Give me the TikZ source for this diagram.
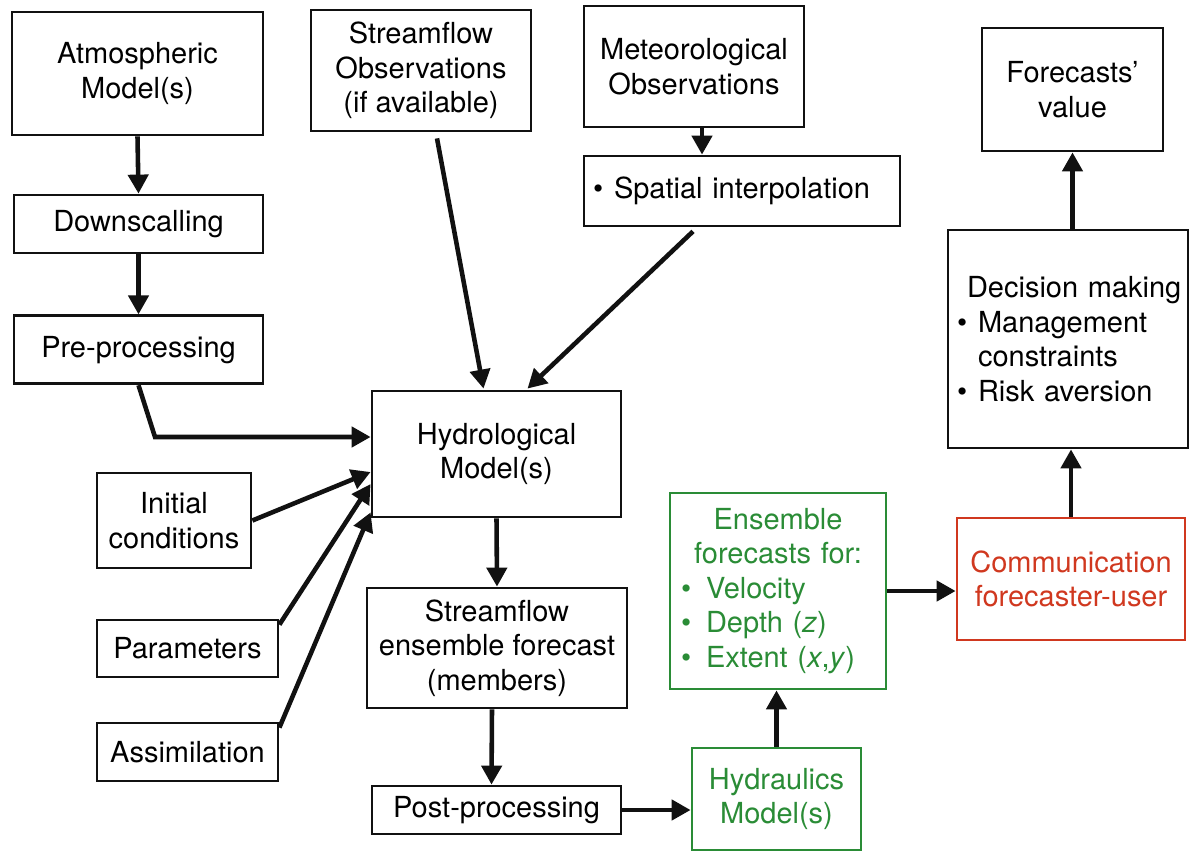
\documentclass[tikz,border=0pt]{standalone}
\usepackage{fontspec}
\setmainfont{TeX Gyre Heros}
\usetikzlibrary{arrows.meta,calc,positioning}
\definecolor{FcInk}{HTML}{111111}
\definecolor{FcGreen}{HTML}{2A8C36}
\definecolor{FcRed}{HTML}{D0381F}
\newcommand{\fcitem}[2][0.42cm]{\makebox[\linewidth][l]{\makebox[#1][l]{\textbullet}#2}}
\tikzset{
  fc/box/.style={
    draw=FcInk, line width=1.6pt, inner sep=0pt,
    align=center, font=\fontsize{16.5}{19.6}\selectfont
  },
  fc/hydraulic/.style={fc/box, draw=FcGreen, text=FcGreen},
  fc/comm/.style={fc/box, draw=FcRed, text=FcRed},
  fc/arrow/.style={
    -{Triangle[length=3.8mm,width=4mm]}, line width=2.6pt, draw=FcInk
  }
}

\begin{document}
\begin{tikzpicture}[x=0.02cm,y=-0.02cm]
  \useasboundingbox (0,0) rectangle (1190,852);
  % left column
  \node[fc/box,minimum width=5.02cm,minimum height=2.46cm] (atmo) at (137.5,73.5) {Atmospheric\\Model(s)};
  \node[fc/box,minimum width=4.98cm,minimum height=1.16cm] (down) at (138.5,224) {Downscalling};
  \node[fc/box,minimum width=4.98cm,minimum height=1.36cm,below=1.2cm of down] (pre) {Pre-processing};
  \node[fc/box,minimum width=3.08cm,minimum height=1.90cm] (init) at (174,520.5) {Initial\\conditions};
  \node[fc/box,minimum width=3.62cm,minimum height=1.14cm] (par) at (187.5,648.5) {Parameters};
  \node[fc/box,minimum width=3.62cm,minimum height=1.16cm] (assim) at (187.5,752) {Assimilation};
  % observations
  \node[fc/box,minimum width=4.40cm,minimum height=2.42cm] (sobs) at (421,70.5) {Streamflow\\Observations\\(if available)};
  \node[fc/box,minimum width=4.40cm,minimum height=2.42cm] (mobs) at (694,66.5) {Meteorological\\Observations};
  \node[fc/box,minimum width=6.32cm,minimum height=1.40cm,text width=5.96cm] (spat) at (742,191) {\fcitem{Spatial interpolation}};
  % hydrological chain
  \node[fc/box,minimum width=4.98cm,minimum height=2.52cm] (hydro) at (496.5,454) {Hydrological\\Model(s)};
  \node[fc/box,minimum width=5.20cm,minimum height=2.40cm] (sens) at (497,648) {Streamflow\\ensemble forecast\\(members)};
  \node[fc/box,minimum width=4.98cm,minimum height=0.96cm] (post) at (496.5,810) {Post-processing};
  \node[fc/hydraulic,minimum width=3.38cm,minimum height=2.04cm] (hydra) at (776.5,799) {Hydraulics\\Model(s)};
  \node[fc/hydraulic,minimum width=4.32cm,minimum height=3.92cm,text width=3.88cm] (ens) at (778,591)
    {Ensemble\\forecasts for:\\\fcitem[0.5cm]{Velocity}\\\fcitem[0.5cm]{Depth (\textit{z})}\\\fcitem[0.5cm]{Extent (\textit{x},\textit{y})}};
  % users
  \node[fc/comm,minimum width=4.56cm,minimum height=2.44cm] (comm) at (1071,579) {Communication\\forecaster-user};
  \node[fc/box,minimum width=4.80cm,minimum height=4.36cm,text width=4.44cm] (dec) at (1068,339)
    {\makebox[\linewidth][l]{\hspace{0.2cm}Decision making}\\\fcitem{Management}\\\makebox[\linewidth][l]{\hspace{0.42cm}constraints}\\\fcitem{Risk aversion}};
  \node[fc/box,minimum width=3.62cm,minimum height=2.46cm] (value) at (1072.5,89.5) {Forecasts’\\value};
  % connectors
  \draw[fc/arrow] (atmo.south) -- (down.north);
  \draw[fc/arrow] (down.south) -- (pre.north);
  \coordinate (prebend) at (155,437);
  \draw[fc/arrow] (pre.south) -- (prebend) -- (prebend -| hydro.west);
  \draw[fc/arrow] ($(sobs.south)+(16,6)$) -- ($(hydro.north)+(-13,-1)$);
  \draw[fc/arrow] ($(mobs.south)+(8,0)$) coordinate (mdrop) -- (mdrop |- spat.north);
  \draw[fc/arrow] ($(spat.south)+(-49,4)$) -- ($(hydro.north)+(31,-1)$);
  \draw[fc/arrow] (init.east) -- ($(hydro.west)+(0,18)$);
  \draw[fc/arrow] ($(par.north east)+(0,6)$) -- ($(hydro.west)+(0,30)$);
  \draw[fc/arrow] ($(assim.north east)+(0,6)$) -- ($(hydro.south west)+(0,-6)$);
  \draw[fc/arrow] (hydro.south) -- (sens.north);
  \draw[fc/arrow] ($(sens.south)+(-5,0)$) -- ($(post.north)+(-5,0)$);
  \draw[fc/arrow] (post.east) -- (post.east -| hydra.west);
  \draw[fc/arrow] (hydra.north) -- (hydra.north |- ens.south);
  \draw[fc/arrow] (ens.east) -- (ens.east -| comm.west);
  \draw[fc/arrow] (comm.north) -- (comm.north |- dec.south);
  \draw[fc/arrow] (value.south |- dec.north) -- (value.south);
\end{tikzpicture}
\end{document}
